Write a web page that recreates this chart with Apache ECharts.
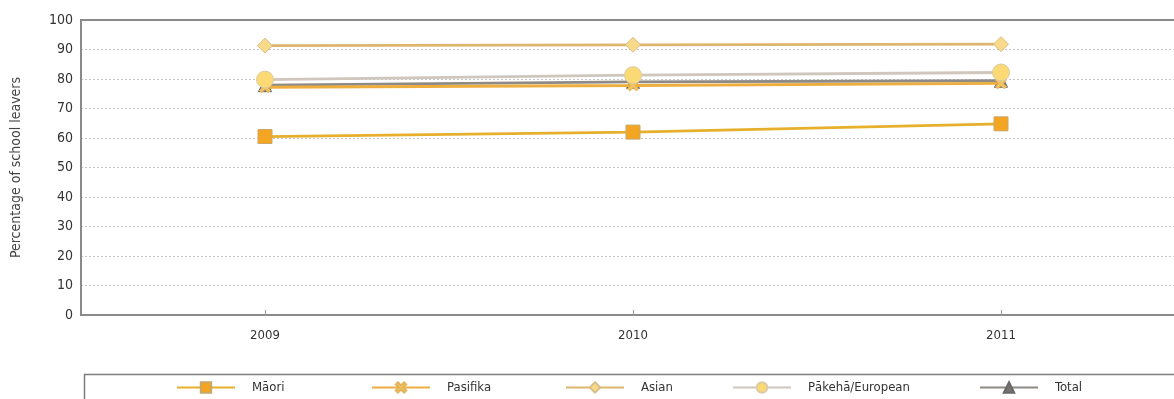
<!DOCTYPE html>
<html>
<head>
<meta charset="utf-8">
<script src="https://cdn.jsdelivr.net/npm/echarts@6/dist/echarts.min.js"></script>
<style>
  html, body { margin: 0; padding: 0; background: #fff; overflow: hidden; }
  #chart { width: 1174px; height: 399px; }
</style>
</head>
<body>
<div id="chart"></div>
<script>
// School leaver attainment by ethnic group, 2009–2011
const years = ['2009', '2010', '2011'];
const maori = [60.5, 62.0, 64.8];
const pasifika = [77.2, 77.8, 78.5];
const asian = [91.3, 91.6, 91.8];
const pakeha = [79.8, 81.3, 82.2];
const total = [77.9, 79.0, 79.4];
const yTicks = [0, 10, 20, 30, 40, 50, 60, 70, 80, 90, 100];

const FONT = "'DejaVu Sans Condensed', 'Liberation Sans Narrow', 'Liberation Sans', sans-serif";
const crossPath = 'path://M2,0 L5,3 L8,0 L10,2 L7,5 L10,8 L8,10 L5,7 L2,10 L0,8 L3,5 L0,2 Z';

function lineSeries(name, data, lineColor, symbol, size, fill, border, z) {
  return {
    name: name,
    type: 'line',
    data: data,
    symbol: symbol,
    symbolSize: size,
    z: z,
    lineStyle: { color: lineColor, width: 2.8 },
    itemStyle: { color: fill, borderColor: border, borderWidth: 1 }
  };
}

const series = [
  lineSeries('Māori', maori, '#E6B02C', 'rect', 14, '#F4A521', '#C9A86A', 5),
  lineSeries('Pasifika', pasifika, '#EDAE3E', crossPath, 11, '#F2C461', '#E3B35A', 3),
  lineSeries('Asian', asian, '#DDB66E', 'diamond', 15, '#F9D98A', '#D9BE88', 4),
  lineSeries('Total', total, '#8E8A86', 'triangle', 13, '#767370', '#6a6764', 2),
  lineSeries('Pākehā/European', pakeha, '#CFC6BC', 'circle', 17, '#FBDA76', '#DCCBA6', 6)
];

// one legend block per series so each entry sits in its own column
const legendNames = ['Māori', 'Pasifika', 'Asian', 'Pākehā/European', 'Total'];
const legendLeft = [176, 371, 565, 732, 979];
const legends = legendNames.map((n, i) => ({
  data: [n],
  left: legendLeft[i],
  top: 381,
  itemWidth: 58,
  itemHeight: 13,
  padding: 0,
  selectedMode: false,
  textStyle: { fontFamily: FONT, fontSize: 13, color: '#333', padding: [0, 0, 0, 12] }
}));

const chart = echarts.init(document.getElementById('chart'));
chart.setOption({
  animation: false,
  backgroundColor: '#fff',
  textStyle: { fontFamily: FONT },
  grid: {
    left: 81, top: 20, width: 1104, bottom: 84,
    outerBoundsMode: 'none',
    containLabel: false,
    show: true, borderColor: '#8a8a8a', borderWidth: 2
  },
  legend: legends,
  graphic: [{
    type: 'rect',
    left: 82, top: 372,
    shape: { width: 1200, height: 60 },
    style: { fill: 'none', stroke: '#7d7d7d', lineWidth: 1.5 },
    silent: true
  }],
  xAxis: {
    type: 'category',
    data: years,
    boundaryGap: true,
    axisLine: { show: true, lineStyle: { color: '#8a8a8a', width: 2 } },
    axisTick: { show: true, inside: true, alignWithLabel: true, length: 5, lineStyle: { color: '#999' } },
    axisLabel: { fontFamily: FONT, fontSize: 13, color: '#333', margin: 14 },
    splitLine: { show: false }
  },
  yAxis: {
    type: 'value',
    min: yTicks[0],
    max: yTicks[yTicks.length - 1],
    interval: 10,
    name: 'Percentage of school leavers',
    nameLocation: 'middle',
    nameGap: 58,
    nameTextStyle: { fontFamily: FONT, fontSize: 14, color: '#444' },
    axisLine: { show: true, lineStyle: { color: '#8a8a8a', width: 2 } },
    axisTick: { show: false },
    axisLabel: { fontFamily: FONT, fontSize: 14, color: '#333', margin: 8 },
    splitLine: {
      show: true, showMinLine: false, showMaxLine: false,
      lineStyle: { color: '#c4c4c4', type: [2, 2], width: 1 }
    }
  },
  series: series
});
</script>
</body>
</html>
